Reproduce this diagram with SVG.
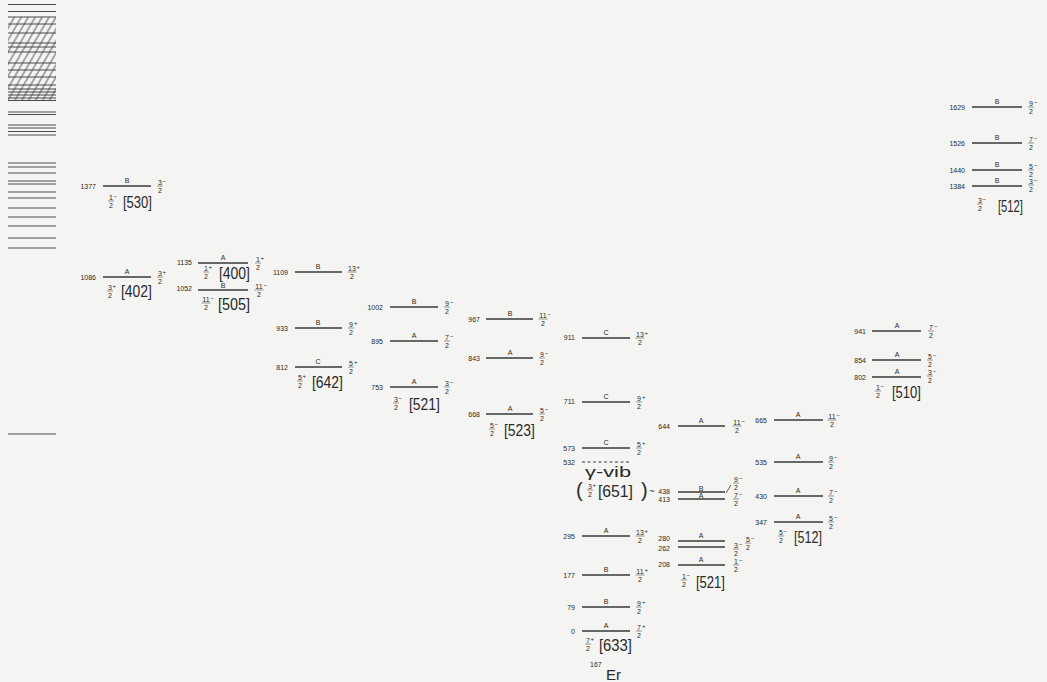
<svg xmlns="http://www.w3.org/2000/svg" width="1047" height="682" viewBox="0 0 1047 682">
<style>
text{font-family:"Liberation Sans",Arial,sans-serif;fill:#2a2a2a}
.lv{stroke:#3a3a3a;stroke-width:1.3}
.dash{stroke:#3a3a3a;stroke-width:1.2;stroke-dasharray:3 2.5}
.bl{stroke:#4a4a4a;stroke-width:1.1}
.en{font-size:7px;text-anchor:end}
.bd{font-size:7px;text-anchor:middle}
.fr text{font-size:7px;text-anchor:middle}
.fr .sg{font-size:6px;text-anchor:start}
.fr line{stroke:#555;stroke-width:.6}
.nb{font-size:16px}
.big{font-size:14px}
.par{font-size:20px}
</style>
<defs>
<pattern id="hatch" patternUnits="userSpaceOnUse" width="6" height="10" patternTransform="rotate(30)">
<line x1="3" y1="0" x2="3" y2="10" stroke="#444" stroke-width="0.9"/>
</pattern>
</defs>
<rect x="0" y="0" width="1047" height="682" fill="#f4f4f2"/>

<g id="band-stack">
<rect x="8" y="17" width="48" height="83" fill="url(#hatch)"/>
<g class="bl">
<line x1="8" y1="4.5" x2="56" y2="4.5"/><line x1="8" y1="11.5" x2="56" y2="11.5"/>
<line x1="8" y1="17" x2="56" y2="17"/><line x1="8" y1="24" x2="56" y2="24"/>
<line x1="8" y1="33" x2="56" y2="33"/><line x1="8" y1="43" x2="56" y2="43"/>
<line x1="8" y1="47" x2="56" y2="47"/><line x1="8" y1="52" x2="56" y2="52"/>
<line x1="8" y1="63" x2="56" y2="63"/><line x1="8" y1="70" x2="56" y2="70"/>
<line x1="8" y1="77" x2="56" y2="77"/><line x1="8" y1="85" x2="56" y2="85"/>
<line x1="8" y1="89" x2="56" y2="89"/><line x1="8" y1="92" x2="56" y2="92"/>
<line x1="8" y1="95" x2="56" y2="95"/><line x1="8" y1="98" x2="56" y2="98"/>
<line x1="8" y1="100.5" x2="56" y2="100.5"/>
<line x1="8" y1="112" x2="56" y2="112"/><line x1="8" y1="114.5" x2="56" y2="114.5"/>
<line x1="8" y1="125" x2="56" y2="125"/><line x1="8" y1="128" x2="56" y2="128"/>
<line x1="8" y1="131.5" x2="56" y2="131.5"/><line x1="8" y1="135" x2="56" y2="135"/>
<line x1="8" y1="163" x2="56" y2="163"/><line x1="8" y1="167" x2="56" y2="167"/>
<line x1="8" y1="173" x2="56" y2="173"/><line x1="8" y1="181" x2="56" y2="181"/>
<line x1="8" y1="184" x2="56" y2="184"/><line x1="8" y1="192" x2="56" y2="192"/>
<line x1="8" y1="198" x2="56" y2="198"/><line x1="8" y1="208" x2="56" y2="208"/>
<line x1="8" y1="217" x2="56" y2="217"/><line x1="8" y1="226" x2="56" y2="226"/>
<line x1="8" y1="238" x2="56" y2="238"/><line x1="8" y1="248" x2="56" y2="248"/>
<line x1="8" y1="434" x2="56" y2="434"/>
</g>
</g>

<!-- Column 1 -->
<g id="lv-1377"><line class="lv" x1="103" y1="186" x2="151" y2="186"/><text class="en" x="96" y="188.5">1377</text><text class="bd" x="127" y="183">B</text>
<g class="fr" transform="translate(160,186)"><text y="-1.5">3</text><line x1="-3" x2="3"/><text y="7">2</text><text class="sg" x="2.5" y="-3">−</text></g></g>
<g id="nil-530"><g class="fr" transform="translate(111,201)"><text y="-1.5">1</text><line x1="-3" x2="3"/><text y="7">2</text><text class="sg" x="2.5" y="-3">−</text></g><text class="nb" x="123" y="208" textLength="29" lengthAdjust="spacingAndGlyphs">[530]</text></g>

<g id="lv-1086"><line class="lv" x1="103" y1="277" x2="151" y2="277"/><text class="en" x="96" y="279.5">1086</text><text class="bd" x="127" y="274">A</text>
<g class="fr" transform="translate(160,277)"><text y="-1.5">3</text><line x1="-3" x2="3"/><text y="7">2</text><text class="sg" x="2.5" y="-3">+</text></g></g>
<g id="nil-402"><g class="fr" transform="translate(110,291)"><text y="-1.5">3</text><line x1="-3" x2="3"/><text y="7">2</text><text class="sg" x="2.5" y="-3">+</text></g><text class="nb" x="121" y="297" textLength="31" lengthAdjust="spacingAndGlyphs">[402]</text></g>

<!-- Column 2 -->
<g id="lv-1135"><line class="lv" x1="198" y1="263" x2="248" y2="263"/><text class="en" x="192" y="265">1135</text><text class="bd" x="223" y="260">A</text>
<g class="fr" transform="translate(258,263)"><text y="-1.5">1</text><line x1="-3" x2="3"/><text y="7">2</text><text class="sg" x="2.5" y="-3">+</text></g></g>
<g id="nil-400"><g class="fr" transform="translate(206,272)"><text y="-1.5">1</text><line x1="-3" x2="3"/><text y="7">2</text><text class="sg" x="2.5" y="-3">+</text></g><text class="nb" x="219" y="279" textLength="31" lengthAdjust="spacingAndGlyphs">[400]</text></g>

<g id="lv-1052"><line class="lv" x1="198" y1="290" x2="248" y2="290"/><text class="en" x="192" y="291">1052</text><text class="bd" x="223" y="287.5">B</text>
<g class="fr" transform="translate(259,290)"><text y="-1.5">11</text><line x1="-4.5" x2="4.5"/><text y="7">2</text><text class="sg" x="4.5" y="-3">−</text></g></g>
<g id="nil-505"><g class="fr" transform="translate(206,303)"><text y="-1.5">11</text><line x1="-4.5" x2="4.5"/><text y="7">2</text><text class="sg" x="4.5" y="-3">−</text></g><text class="nb" x="218" y="310" textLength="32" lengthAdjust="spacingAndGlyphs">[505]</text></g>

<!-- Column 3 -->
<g id="lv-1109"><line class="lv" x1="295" y1="272" x2="342" y2="272"/><text class="en" x="288" y="274.5">1109</text><text class="bd" x="318" y="269">B</text>
<g class="fr" transform="translate(352,272)"><text y="-1.5">13</text><line x1="-4.5" x2="4.5"/><text y="7">2</text><text class="sg" x="4.5" y="-3">+</text></g></g>
<g id="lv-933"><line class="lv" x1="295" y1="328" x2="342" y2="328"/><text class="en" x="288" y="330.5">933</text><text class="bd" x="318" y="325">B</text>
<g class="fr" transform="translate(351,328)"><text y="-1.5">9</text><line x1="-3" x2="3"/><text y="7">2</text><text class="sg" x="3" y="-3">+</text></g></g>
<g id="lv-812"><line class="lv" x1="295" y1="367" x2="342" y2="367"/><text class="en" x="288" y="369.5">812</text><text class="bd" x="318" y="364">C</text>
<g class="fr" transform="translate(351,367)"><text y="-1.5">5</text><line x1="-3" x2="3"/><text y="7">2</text><text class="sg" x="3" y="-3">+</text></g></g>
<g id="nil-642"><g class="fr" transform="translate(300,381)"><text y="-1.5">5</text><line x1="-3" x2="3"/><text y="7">2</text><text class="sg" x="2.5" y="-3">+</text></g><text class="nb" x="312" y="388" textLength="31" lengthAdjust="spacingAndGlyphs">[642]</text></g>

<!-- Column 4 -->
<g id="lv-1002"><line class="lv" x1="390" y1="307" x2="438" y2="307"/><text class="en" x="383" y="309.5">1002</text><text class="bd" x="414" y="304">B</text>
<g class="fr" transform="translate(447,307)"><text y="-1.5">9</text><line x1="-3" x2="3"/><text y="7">2</text><text class="sg" x="3" y="-3">−</text></g></g>
<g id="lv-895"><line class="lv" x1="390" y1="341" x2="438" y2="341"/><text class="en" x="383" y="343.5">895</text><text class="bd" x="414" y="338">A</text>
<g class="fr" transform="translate(447,341)"><text y="-1.5">7</text><line x1="-3" x2="3"/><text y="7">2</text><text class="sg" x="3" y="-3">−</text></g></g>
<g id="lv-753"><line class="lv" x1="390" y1="387" x2="438" y2="387"/><text class="en" x="383" y="389.5">753</text><text class="bd" x="414" y="384">A</text>
<g class="fr" transform="translate(447,387)"><text y="-1.5">3</text><line x1="-3" x2="3"/><text y="7">2</text><text class="sg" x="3" y="-3">−</text></g></g>
<g id="nil-521a"><g class="fr" transform="translate(396,403)"><text y="-1.5">3</text><line x1="-3" x2="3"/><text y="7">2</text><text class="sg" x="2.5" y="-3">−</text></g><text class="nb" x="409" y="410" textLength="31" lengthAdjust="spacingAndGlyphs">[521]</text></g>

<!-- Column 5 -->
<g id="lv-967"><line class="lv" x1="486" y1="319" x2="533" y2="319"/><text class="en" x="480" y="321.5">967</text><text class="bd" x="510" y="316">B</text>
<g class="fr" transform="translate(543,319)"><text y="-1.5">11</text><line x1="-4.5" x2="4.5"/><text y="7">2</text><text class="sg" x="4.5" y="-3">−</text></g></g>
<g id="lv-843"><line class="lv" x1="486" y1="358" x2="533" y2="358"/><text class="en" x="480" y="360.5">843</text><text class="bd" x="510" y="355">A</text>
<g class="fr" transform="translate(542,358)"><text y="-1.5">9</text><line x1="-3" x2="3"/><text y="7">2</text><text class="sg" x="3" y="-3">−</text></g></g>
<g id="lv-668"><line class="lv" x1="486" y1="414" x2="533" y2="414"/><text class="en" x="480" y="416.5">668</text><text class="bd" x="510" y="411">A</text>
<g class="fr" transform="translate(542,414)"><text y="-1.5">5</text><line x1="-3" x2="3"/><text y="7">2</text><text class="sg" x="3" y="-3">−</text></g></g>
<g id="nil-523"><g class="fr" transform="translate(492,429)"><text y="-1.5">5</text><line x1="-3" x2="3"/><text y="7">2</text><text class="sg" x="2.5" y="-3">−</text></g><text class="nb" x="504" y="436" textLength="31" lengthAdjust="spacingAndGlyphs">[523]</text></g>

<!-- Column 6 -->
<g id="lv-911"><line class="lv" x1="582" y1="338" x2="630" y2="338"/><text class="en" x="575" y="340">911</text><text class="bd" x="606" y="335">C</text>
<g class="fr" transform="translate(640,338)"><text y="-1.5">13</text><line x1="-4.5" x2="4.5"/><text y="7">2</text><text class="sg" x="4.5" y="-3">+</text></g></g>
<g id="lv-711"><line class="lv" x1="582" y1="402" x2="630" y2="402"/><text class="en" x="575" y="404">711</text><text class="bd" x="606" y="399">C</text>
<g class="fr" transform="translate(639,402)"><text y="-1.5">9</text><line x1="-3" x2="3"/><text y="7">2</text><text class="sg" x="3" y="-3">+</text></g></g>
<g id="lv-573"><line class="lv" x1="582" y1="448" x2="630" y2="448"/><text class="en" x="575" y="450.5">573</text><text class="bd" x="606" y="445">C</text>
<g class="fr" transform="translate(639,448)"><text y="-1.5">5</text><line x1="-3" x2="3"/><text y="7">2</text><text class="sg" x="3" y="-3">+</text></g></g>
<g id="lv-532"><line class="dash" x1="582" y1="462" x2="630" y2="462"/><text class="en" x="575" y="464.5">532</text>
<text x="585" y="477" font-size="15" textLength="46" lengthAdjust="spacingAndGlyphs">γ-vib</text>
<text class="par" x="576" y="497">(</text>
<g class="fr" transform="translate(590,490)"><text y="-1.5">3</text><line x1="-3" x2="3"/><text y="7">2</text><text class="sg" x="2.5" y="-3">+</text></g>
<text class="nb" x="598" y="497" textLength="35" lengthAdjust="spacingAndGlyphs">[651]</text>
<text class="par" x="641" y="497">)</text></g>
<g id="lv-295"><line class="lv" x1="582" y1="536" x2="630" y2="536"/><text class="en" x="575" y="538.5">295</text><text class="bd" x="606" y="533">A</text>
<g class="fr" transform="translate(640,536)"><text y="-1.5">13</text><line x1="-4.5" x2="4.5"/><text y="7">2</text><text class="sg" x="4.5" y="-3">+</text></g></g>
<g id="lv-177"><line class="lv" x1="582" y1="575" x2="630" y2="575"/><text class="en" x="575" y="577.5">177</text><text class="bd" x="606" y="572">B</text>
<g class="fr" transform="translate(640,575)"><text y="-1.5">11</text><line x1="-4.5" x2="4.5"/><text y="7">2</text><text class="sg" x="4.5" y="-3">+</text></g></g>
<g id="lv-79"><line class="lv" x1="582" y1="607" x2="630" y2="607"/><text class="en" x="575" y="609.5">79</text><text class="bd" x="606" y="604">B</text>
<g class="fr" transform="translate(639,607)"><text y="-1.5">9</text><line x1="-3" x2="3"/><text y="7">2</text><text class="sg" x="3" y="-3">+</text></g></g>
<g id="lv-0"><line class="lv" x1="582" y1="631" x2="630" y2="631"/><text class="en" x="575" y="633.5">0</text><text class="bd" x="606" y="628">A</text>
<g class="fr" transform="translate(639,631)"><text y="-1.5">7</text><line x1="-3" x2="3"/><text y="7">2</text><text class="sg" x="3" y="-3">+</text></g></g>
<g id="nil-633"><g class="fr" transform="translate(588,644)"><text y="-1.5">7</text><line x1="-3" x2="3"/><text y="7">2</text><text class="sg" x="2.5" y="-3">+</text></g><text class="nb" x="599" y="651" textLength="33" lengthAdjust="spacingAndGlyphs">[633]</text></g>
<g id="nucleus"><text x="590" y="667" font-size="7">167</text><text x="606" y="680" font-size="15">Er</text></g>

<!-- Column 7 -->
<g id="lv-644"><line class="lv" x1="678" y1="426" x2="725" y2="426"/><text class="en" x="670" y="428.5">644</text><text class="bd" x="701" y="423">A</text>
<g class="fr" transform="translate(737,426)"><text y="-1.5">11</text><line x1="-4.5" x2="4.5"/><text y="7">2</text><text class="sg" x="4.5" y="-3">−</text></g></g>
<g id="lv-438"><line class="lv" x1="678" y1="492" x2="725" y2="492"/><text x="649" y="494" font-size="9">~</text><text class="en" x="670" y="494">438</text><text class="bd" x="701" y="491">B</text>
<g class="fr" transform="translate(736,483)"><text y="-1.5">9</text><line x1="-3" x2="3"/><text y="7">2</text><text class="sg" x="3" y="-3">−</text></g></g>
<g id="lv-413"><line class="lv" x1="678" y1="499" x2="725" y2="499"/><text class="en" x="670" y="502">413</text><text class="bd" x="701" y="498">A</text>
<g class="fr" transform="translate(736,499)"><text y="-1.5">7</text><line x1="-3" x2="3"/><text y="7">2</text><text class="sg" x="3" y="-3">−</text></g></g>
<g id="lv-280"><line class="lv" x1="678" y1="541" x2="725" y2="541"/><text class="en" x="670" y="541">280</text><text class="bd" x="701" y="538">A</text>
<g class="fr" transform="translate(748,543)"><text y="-1.5">5</text><line x1="-3" x2="3"/><text y="7">2</text><text class="sg" x="3" y="-3">−</text></g></g>
<g id="lv-262"><line class="lv" x1="678" y1="547" x2="725" y2="547"/><text class="en" x="670" y="551">262</text>
<g class="fr" transform="translate(736,549)"><text y="-1.5">3</text><line x1="-3" x2="3"/><text y="7">2</text><text class="sg" x="3" y="-3">−</text></g></g>
<g id="lv-208"><line class="lv" x1="678" y1="565" x2="725" y2="565"/><text class="en" x="670" y="566.5">208</text><text class="bd" x="701" y="562">A</text>
<g class="fr" transform="translate(736,565)"><text y="-1.5">1</text><line x1="-3" x2="3"/><text y="7">2</text><text class="sg" x="3" y="-3">−</text></g></g>
<g id="nil-521b"><g class="fr" transform="translate(684,580)"><text y="-1.5">1</text><line x1="-3" x2="3"/><text y="7">2</text><text class="sg" x="2.5" y="-3">−</text></g><text class="nb" x="696" y="588" textLength="29" lengthAdjust="spacingAndGlyphs">[521]</text></g>

<!-- Column 8 -->
<g id="lv-665"><line class="lv" x1="774" y1="420" x2="823" y2="420"/><text class="en" x="767" y="422.5">665</text><text class="bd" x="798" y="417">A</text>
<g class="fr" transform="translate(832,420)"><text y="-1.5">11</text><line x1="-4.5" x2="4.5"/><text y="7">2</text><text class="sg" x="4.5" y="-3">−</text></g></g>
<g id="lv-535"><line class="lv" x1="774" y1="462" x2="823" y2="462"/><text class="en" x="767" y="464.5">535</text><text class="bd" x="798" y="459">A</text>
<g class="fr" transform="translate(831,462)"><text y="-1.5">9</text><line x1="-3" x2="3"/><text y="7">2</text><text class="sg" x="3" y="-3">−</text></g></g>
<g id="lv-430"><line class="lv" x1="774" y1="496" x2="823" y2="496"/><text class="en" x="767" y="498.5">430</text><text class="bd" x="798" y="493">A</text>
<g class="fr" transform="translate(831,496)"><text y="-1.5">7</text><line x1="-3" x2="3"/><text y="7">2</text><text class="sg" x="3" y="-3">−</text></g></g>
<g id="lv-347"><line class="lv" x1="774" y1="522" x2="823" y2="522"/><text class="en" x="767" y="524.5">347</text><text class="bd" x="798" y="519">A</text>
<g class="fr" transform="translate(831,522)"><text y="-1.5">5</text><line x1="-3" x2="3"/><text y="7">2</text><text class="sg" x="3" y="-3">−</text></g></g>
<g id="nil-512a"><g class="fr" transform="translate(781,536)"><text y="-1.5">5</text><line x1="-3" x2="3"/><text y="7">2</text><text class="sg" x="2.5" y="-3">−</text></g><text class="nb" x="794" y="543" textLength="28" lengthAdjust="spacingAndGlyphs">[512]</text></g>

<!-- Column 9 -->
<g id="lv-941"><line class="lv" x1="872" y1="331" x2="921" y2="331"/><text class="en" x="866" y="333.5">941</text><text class="bd" x="897" y="328">A</text>
<g class="fr" transform="translate(931,331)"><text y="-1.5">7</text><line x1="-3" x2="3"/><text y="7">2</text><text class="sg" x="3" y="-3">−</text></g></g>
<g id="lv-854"><line class="lv" x1="872" y1="360" x2="921" y2="360"/><text class="en" x="866" y="362.5">854</text><text class="bd" x="897" y="357">A</text>
<g class="fr" transform="translate(930,360)"><text y="-1.5">5</text><line x1="-3" x2="3"/><text y="7">2</text><text class="sg" x="3" y="-3">−</text></g></g>
<g id="lv-802"><line class="lv" x1="872" y1="377" x2="921" y2="377"/><text class="en" x="866" y="379.5">802</text><text class="bd" x="897" y="374">A</text>
<g class="fr" transform="translate(930,376)"><text y="-1.5">3</text><line x1="-3" x2="3"/><text y="7">2</text><text class="sg" x="3" y="-3">−</text></g></g>
<g id="nil-510"><g class="fr" transform="translate(878,391)"><text y="-1.5">1</text><line x1="-3" x2="3"/><text y="7">2</text><text class="sg" x="2.5" y="-3">−</text></g><text class="nb" x="892" y="398" textLength="29" lengthAdjust="spacingAndGlyphs">[510]</text></g>

<!-- Column 10 -->
<g id="lv-1629"><line class="lv" x1="972" y1="107" x2="1022" y2="107"/><text class="en" x="965" y="109.5">1629</text><text class="bd" x="997" y="104">B</text>
<g class="fr" transform="translate(1031,107)"><text y="-1.5">9</text><line x1="-3" x2="3"/><text y="7">2</text><text class="sg" x="3" y="-3">−</text></g></g>
<g id="lv-1526"><line class="lv" x1="972" y1="143" x2="1022" y2="143"/><text class="en" x="965" y="145.5">1526</text><text class="bd" x="997" y="140">B</text>
<g class="fr" transform="translate(1031,143)"><text y="-1.5">7</text><line x1="-3" x2="3"/><text y="7">2</text><text class="sg" x="3" y="-3">−</text></g></g>
<g id="lv-1440"><line class="lv" x1="972" y1="170" x2="1022" y2="170"/><text class="en" x="965" y="172.5">1440</text><text class="bd" x="997" y="167">B</text>
<g class="fr" transform="translate(1031,170)"><text y="-1.5">5</text><line x1="-3" x2="3"/><text y="7">2</text><text class="sg" x="3" y="-3">−</text></g></g>
<g id="lv-1384"><line class="lv" x1="972" y1="186" x2="1022" y2="186"/><text class="en" x="965" y="188.5">1384</text><text class="bd" x="997" y="183">B</text>
<g class="fr" transform="translate(1031,185)"><text y="-1.5">3</text><line x1="-3" x2="3"/><text y="7">2</text><text class="sg" x="3" y="-3">−</text></g></g>
<g id="nil-512b"><g class="fr" transform="translate(980,204)"><text y="-1.5">3</text><line x1="-3" x2="3"/><text y="7">2</text><text class="sg" x="2.5" y="-3">−</text></g><text class="nb" x="998" y="212" textLength="25" lengthAdjust="spacingAndGlyphs">[512]</text></g>

<g id="connectors">
<line x1="726" y1="493" x2="731" y2="485" stroke="#3a3a3a" stroke-width="0.8"/>
</g>
</svg>
